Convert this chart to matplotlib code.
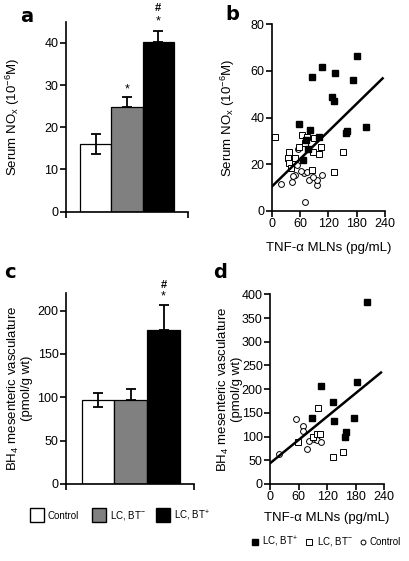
import matplotlib
matplotlib.use("Agg")
import matplotlib.pyplot as plt
from matplotlib.patches import Rectangle
import numpy as np

plt.rcParams['font.family'] = ['Liberation Sans', 'DejaVu Sans']
plt.rcParams['mathtext.fontset'] = 'custom'
plt.rcParams['mathtext.rm'] = 'Liberation Sans'
plt.rcParams['mathtext.it'] = 'Liberation Sans'
plt.rcParams['font.size'] = 8

# bar data
groups = ['Control', 'LC, BT$^{-}$', 'LC, BT$^{+}$']
bar_colors = ['white', '#808080', 'black']
nox_mean = [16.0, 24.7, 40.3]
nox_err = [2.4, 2.4, 2.4]
bh4_mean = [97, 97, 178]
bh4_err = [8, 13, 28]

# panel b scatter (TNF-a, NOx)
b_pos_x = [58, 81, 73, 76, 67, 85, 107, 134, 127, 131, 101, 157, 159, 173, 180, 200]
b_pos_y = [37.1, 34.6, 30.3, 26.5, 21.8, 57.5, 61.8, 59.2, 48.9, 47.1, 31.5, 33.5, 34.2, 56.1, 66.4, 36.0]
b_neg_x = [6, 37, 35, 37, 41, 58, 64, 74, 89, 88, 100, 104, 85, 131, 152, 50, 70]
b_neg_y = [31.5, 25.3, 22.8, 20.3, 18.5, 27.5, 32.3, 31.8, 31.0, 25.0, 24.5, 27.5, 17.5, 16.7, 25.0, 22.5, 29.0]
b_ctl_x = [19, 44, 56, 53, 50, 68, 74, 80, 71, 96, 97, 107, 45, 62, 88]
b_ctl_y = [11.3, 12.4, 26.3, 19.6, 15.3, 16.0, 16.7, 13.2, 3.9, 11.0, 13.2, 15.3, 15.0, 17.0, 14.5]
b_fit_x = [0, 235]
b_fit_y = [10.3, 56.8]

# panel d scatter (TNF-a, BH4)
d_pos_x = [203, 107, 182, 132, 89, 135, 176, 159, 157]
d_pos_y = [384, 207, 214, 172, 140, 133, 140, 109, 100]
d_neg_x = [101, 58, 90, 99, 106, 133, 154]
d_neg_y = [160, 89, 100, 105, 105, 56, 68]
d_ctl_x = [19, 55, 70, 70, 77, 82, 93, 97, 99, 108]
d_ctl_y = [63, 137, 122, 112, 74, 90, 94, 98, 93, 89]
d_fit_x = [0, 233]
d_fit_y = [43.6, 235]

fig = plt.figure(figsize=(4.1, 5.61), dpi=100)

ax_a = fig.add_axes([0.1602, 0.6226, 0.299, 0.3387])
ax_b = fig.add_axes([0.6627, 0.6244, 0.2763, 0.3323])
ax_c = fig.add_axes([0.1602, 0.1373, 0.3137, 0.3399])
ax_d = fig.add_axes([0.6585, 0.1373, 0.2788, 0.3381])


def style(ax):
    for s in ['top', 'right']:
        ax.spines[s].set_visible(False)
    for s in ['left', 'bottom']:
        ax.spines[s].set_linewidth(1.2)
    ax.tick_params(width=1.2, length=4, labelsize=9, pad=1.2)


def bars(ax, means, errs, xlim, ylim, yticks):
    x = np.arange(len(means))
    ax.bar(x, means, width=1.0, color=bar_colors, edgecolor='black', linewidth=0.9, zorder=2)
    for i in range(len(means)):
        lower = errs[i] if i == 0 else 0
        ax.errorbar(x[i], means[i], yerr=[[lower], [errs[i]]], fmt='none', ecolor='black',
                    elinewidth=1.3, capsize=3.5, capthick=1.3, zorder=3)
    ax.set_xlim(*xlim)
    ax.set_ylim(*ylim)
    ax.set_xticks(list(xlim))
    ax.set_xticklabels([])
    ax.set_yticks(yticks)
    style(ax)


bars(ax_a, nox_mean, nox_err, (-0.957, 2.96), (0, 45), [0, 10, 20, 30, 40])
ax_a.set_ylabel('Serum NO$_\\mathrm{x}$ (10$^{-6}$M)', fontsize=9.5, va='center')
ax_a.yaxis.set_label_coords(-0.43, 0.5)
ax_a.text(1, 28.9, '*', ha='center', va='center', fontsize=9)
ax_a.text(2, 45.1, '*', ha='center', va='center', fontsize=9, clip_on=False)
ax_a.text(2, 48.3, '#', ha='center', va='center', fontsize=8, fontweight='bold', clip_on=False)

bars(ax_c, bh4_mean, bh4_err, (-0.99, 2.94), (0, 220), [0, 50, 100, 150, 200])
ax_c.set_ylabel('BH$_4$ mesenteric vasculature\n(pmol/g wt)', fontsize=9.5, linespacing=0.95,
                va='center')
ax_c.yaxis.set_label_coords(-0.36, 0.5)
ax_c.text(2, 216.5, '*', ha='center', va='center', fontsize=9, clip_on=False)
ax_c.text(2, 230, '#', ha='center', va='center', fontsize=8, fontweight='bold', clip_on=False)


def scatter(ax, px, py, nx, ny, cx, cy, fx, fy, xlim, ylim, yticks):
    ax.plot(cx, cy, 'o', ms=4.2, mfc='white', mec='black', mew=0.7, clip_on=False, zorder=2)
    ax.plot(nx, ny, 's', ms=4.6, mfc='white', mec='black', mew=0.7, clip_on=False, zorder=3)
    ax.plot(px, py, 's', ms=4.6, mfc='black', mec='black', clip_on=False, zorder=4)
    ax.plot(fx, fy, '-', color='black', lw=1.8, zorder=5)
    ax.set_xlim(*xlim)
    ax.set_ylim(*ylim)
    ax.set_xticks([0, 60, 120, 180, 240])
    ax.set_yticks(yticks)
    style(ax)
    ax.set_xlabel('TNF-α MLNs (pg/mL)', fontsize=9.5)


scatter(ax_b, b_pos_x, b_pos_y, b_neg_x, b_neg_y, b_ctl_x, b_ctl_y, b_fit_x, b_fit_y,
        (0, 240), (0, 80), [0, 20, 40, 60, 80])
ax_b.set_ylabel('Serum NO$_\\mathrm{x}$ (10$^{-6}$M)', fontsize=9.5, va='center')
ax_b.yaxis.set_label_coords(-0.39, 0.5)
ax_b.xaxis.set_label_coords(0.5, -0.168)

scatter(ax_d, d_pos_x, d_pos_y, d_neg_x, d_neg_y, d_ctl_x, d_ctl_y, d_fit_x, d_fit_y,
        (0, 240), (0, 400), [0, 50, 100, 150, 200, 250, 300, 350, 400])
ax_d.set_ylabel('BH$_4$ mesenteric vasculature\n(pmol/g wt)', fontsize=9.5, linespacing=0.95,
                va='center')
ax_d.yaxis.set_label_coords(-0.355, 0.5)
ax_d.xaxis.set_label_coords(0.5, -0.148)

# panel letters
for lbl, x, y in [('a', 27, 17), ('b', 232, 15), ('c', 10, 272), ('d', 220, 272)]:
    fig.text(x / 410, 1 - y / 561, lbl, fontsize=14, fontweight='bold',
             family='DejaVu Sans', ha='center', va='center')

# bar legend below panel c
leg_y = 1 - 522 / 561
for (x0, txt, col) in [(30, groups[0], 'white'), (92, groups[1], '#808080'), (156, groups[2], 'black')]:
    fig.add_artist(Rectangle((x0 / 410, leg_y), 14 / 410, 14 / 561, facecolor=col,
                             edgecolor='black', linewidth=1.0, transform=fig.transFigure))
    fig.text((x0 + 18) / 410, leg_y + 6 / 561, txt, fontsize=7, va='center')

# scatter legend below panel d
ly = 1 - 542 / 561
fig.lines.append(plt.Line2D([255 / 410], [ly], marker='s', ms=4, mfc='black', mec='black',
                            transform=fig.transFigure))
fig.text(262 / 410, ly, 'LC, BT$^{+}$', fontsize=7, va='center')
fig.lines.append(plt.Line2D([309 / 410], [ly], marker='s', ms=4, mfc='white', mec='black', mew=0.7,
                            transform=fig.transFigure))
fig.text(317 / 410, ly, 'LC, BT$^{-}$', fontsize=7, va='center')
fig.lines.append(plt.Line2D([363 / 410], [ly], marker='o', ms=3.5, mfc='white', mec='black', mew=0.7,
                            transform=fig.transFigure))
fig.text(370 / 410, ly, 'Control', fontsize=7, va='center')

fig.savefig('out.png', dpi=100)
